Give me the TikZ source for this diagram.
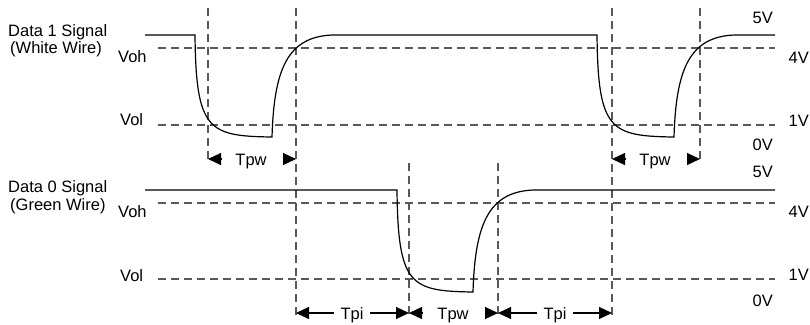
\documentclass[tikz,border=0pt]{standalone}
\usepackage{fontspec}
\setmainfont{Liberation Sans}
\usetikzlibrary{arrows.meta}
\begin{document}
\begin{tikzpicture}[x=1pt,y=-1pt,
  wave/.style={line width=1.2pt, black},
  guide/.style={line width=1.4pt, black!65, dash pattern=on 8pt off 5pt},
  lbl/.style={font=\fontsize{16.5}{18}\selectfont, inner sep=0pt},
  dim/.style={line width=1.2pt, -{Triangle[length=13pt,width=12pt]}}]
\fill[white] (0,0) rectangle (810,324);
\useasboundingbox (0,0) rectangle (810,324);

% guide coordinates
\coordinate (a1) at (208,8);   \coordinate (a2) at (208,163);
\coordinate (b1) at (296,8);   \coordinate (b2) at (296,317);
\coordinate (c1) at (612,8);   \coordinate (c2) at (612,317);
\coordinate (d1) at (700,8);   \coordinate (d2) at (700,163);
\coordinate (e1) at (409,163); \coordinate (e2) at (409,317);
\coordinate (f1) at (498,163); \coordinate (f2) at (498,317);

% horizontal threshold lines
\draw[guide] (158,48) -- (775,48);
\draw[guide] (158,125) -- (775,125);
\draw[guide] (158,203) -- (775,203);
\draw[guide] (158,279) -- (775,279);
% vertical timing lines
\draw[guide] (a1) -- (a2);
\draw[guide] (b1) -- (b2);
\draw[guide] (c1) -- (c2);
\draw[guide] (d1) -- (d2);
\draw[guide] (e1) -- (e2);
\draw[guide] (f1) -- (f2);

% Data 1 waveform
\draw[wave] (145,35) -- (195,35)
  .. controls (196,130) and (208,136) .. (271,137)
  -- (272,137) .. controls (274,70) and (287,37) .. (332,35)
  -- (597,35)
  .. controls (598,130) and (610,136) .. (673,137)
  -- (674,137) .. controls (676,70) and (689,37) .. (734,35)
  -- (775,35);

% Data 0 waveform
\draw[wave] (145,190) -- (397,190)
  .. controls (398,285) and (410,291) .. (472,292)
  -- (473,292) .. controls (475,225) and (488,192) .. (533,190)
  -- (775,190);

% left labels
\node[lbl, anchor=base west] (d1sig) at (8,36) {Data 1 Signal};
\node[lbl, anchor=base west] (d1wire) at (10,53) {(White Wire)};
\node[lbl, anchor=base west] (voh1) at (118,62) {Voh};
\node[lbl, anchor=base west] (vol1) at (120,125) {Vol};
\node[lbl, anchor=base west] (d0sig) at (8,192) {Data 0 Signal};
\node[lbl, anchor=base west] (d0wire) at (10,210) {(Green Wire)};
\node[lbl, anchor=base west] (voh0) at (118,217) {Voh};
\node[lbl, anchor=base west] (vol0) at (120,281) {Vol};

% right labels
\node[lbl, anchor=base east] (v5a) at (773,23) {5V};
\node[lbl, anchor=base east] (v4a) at (809,63) {4V};
\node[lbl, anchor=base east] (v1a) at (809,126) {1V};
\node[lbl, anchor=base east] (v0a) at (773,150) {0V};
\node[lbl, anchor=base east] (v5b) at (773,177) {5V};
\node[lbl, anchor=base east] (v4b) at (809,217) {4V};
\node[lbl, anchor=base east] (v1b) at (809,280) {1V};
\node[lbl, anchor=base east] (v0b) at (773,306) {0V};

% top Tpw
\node[lbl, anchor=base] (tpwA) at (251,165) {Tpw};
\coordinate (tA1) at (221,159); \coordinate (tA2) at (208,159);
\coordinate (tA3) at (284,159); \coordinate (tA4) at (296,159);
\draw[dim] (tA1) -- (tA2);
\draw[dim] (tA3) -- (tA4);

% right Tpw
\node[lbl, anchor=base] (tpwB) at (655,165) {Tpw};
\coordinate (tB1) at (625,159); \coordinate (tB2) at (612,159);
\coordinate (tB3) at (688,159); \coordinate (tB4) at (700,159);
\draw[dim] (tB1) -- (tB2);
\draw[dim] (tB3) -- (tB4);

% bottom Tpi / Tpw / Tpi
\node[lbl, anchor=base] (tpi1) at (352,319) {Tpi};
\node[lbl, anchor=base] (tpwC) at (453,319) {Tpw};
\node[lbl, anchor=base] (tpi2) at (555,319) {Tpi};
\coordinate (p1) at (296,313); \coordinate (p2) at (409,313);
\coordinate (p3) at (498,313); \coordinate (p4) at (612,313);
\coordinate (q1) at (423,313); \coordinate (q2) at (485,313);
\draw[dim] ([xshift=-6pt]tpi1.west |- p1) -- (p1);
\draw[dim] ([xshift=6pt]tpi1.east |- p1) -- (p2);
\draw[dim] (q1) -- (p2);
\draw[dim] (q2) -- (p3);
\draw[dim] ([xshift=-6pt]tpi2.west |- p1) -- (p3);
\draw[dim] ([xshift=6pt]tpi2.east |- p1) -- (p4);
\end{tikzpicture}
\end{document}
